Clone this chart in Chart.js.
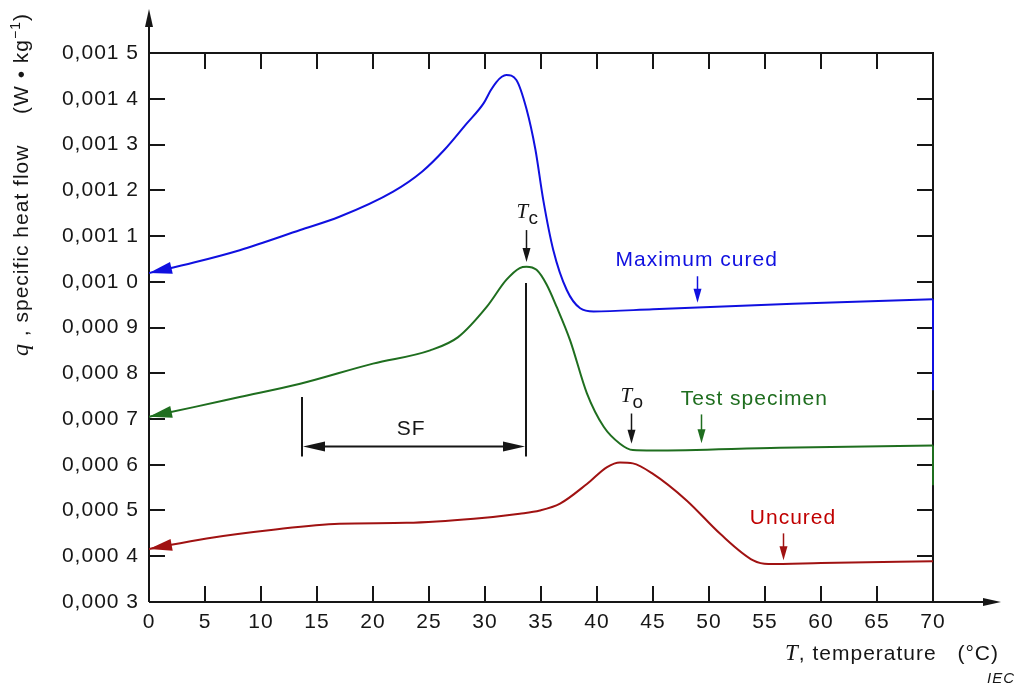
<!DOCTYPE html>
<html>
<head>
<meta charset="utf-8">
<title>Specific heat flow</title>
<script src="https://cdn.jsdelivr.net/npm/chart.js@4.4.0/dist/chart.umd.min.js"></script>
<style>
  html, body { margin: 0; padding: 0; background: #fff; }
  canvas { display: block; }
</style>
</head>
<body>
<canvas id="chart" width="1018" height="684"></canvas>
<script>
// curves: temperature (°C) -> specific heat flow (W/kg)
const tempCured = [0, 4, 8.1, 13.5, 17, 21.8, 24.4, 26.4, 28.3, 29.9, 30.5, 31, 31.5, 31.9, 32.8, 33.7, 34.5, 35.2, 36.1, 37.3, 38.5, 39.7, 45, 57.5, 70];
const heatCured = [0.001019, 0.001042, 0.001069, 0.001113, 0.001142, 0.001197, 0.001241, 0.001289, 0.001344, 0.001391, 0.001418, 0.001436, 0.001448, 0.001452, 0.001441, 0.001378, 0.001289, 0.001179, 0.001069, 0.000982, 0.000942, 0.000935, 0.000940, 0.000952, 0.000962];

const tempSpecimen = [0, 4, 8.1, 13.5, 20, 25.1, 27.6, 30.15, 31.9, 33.1, 33.7, 34.6, 35.5, 36.4, 37.6, 39.1, 40.6, 42.05, 43.2, 45, 56.3, 70];
const heatSpecimen = [0.000705, 0.000726, 0.000748, 0.000777, 0.000821, 0.000850, 0.000879, 0.000945, 0.001004, 0.001030, 0.001033, 0.001026, 0.000994, 0.000945, 0.000872, 0.000756, 0.000683, 0.000646, 0.000632, 0.000631, 0.000637, 0.000642];

const tempUncured = [0, 5.15, 11.1, 17, 23, 29, 33.1, 34.9, 36.7, 39.1, 40.9, 42.05, 43.2, 45, 48, 51, 53.95, 55.3, 60, 70];
const heatUncured = [0.000416, 0.000439, 0.000458, 0.000471, 0.000473, 0.000482, 0.000493, 0.000500, 0.000515, 0.000558, 0.000595, 0.000605, 0.000603, 0.000580, 0.000522, 0.000449, 0.000391, 0.000383, 0.000385, 0.000389];

// the traces drop straight down at the end of the run
const endTemp = 70;
const curedDrop = [0.000962, 0.000763];
const specimenDrop = [0.000642, 0.000555];

const xTickValues = [0, 5, 10, 15, 20, 25, 30, 35, 40, 45, 50, 55, 60, 65, 70];
const yTickValues = [0.0003, 0.0004, 0.0005, 0.0006, 0.0007, 0.0008, 0.0009, 0.0010, 0.0011, 0.0012, 0.0013, 0.0014, 0.0015];
const yTickLabels = ["0,000 3", "0,000 4", "0,000 5", "0,000 6", "0,000 7", "0,000 8", "0,000 9", "0,001 0", "0,001 1", "0,001 2", "0,001 3", "0,001 4", "0,001 5"];

// SF span and the characteristic temperatures
const sfStart = 13.7;
const tcTemp = 33.7;
const toTemp = 43.0;

const BLUE = "#1010e0";
const GREEN = "#1f6e1f";
const RED = "#a01212";
const INK = "#161616";
const SANS = "'Liberation Sans', Arial, sans-serif";
const SERIF = "'Liberation Serif', 'Times New Roman', serif";

const pts = (xs, ys) => xs.map((t, i) => ({ x: t, y: ys[i] }));

function arrowHead(ctx, tipX, tipY, dx, dy, len, half) {
  const d = Math.hypot(dx, dy);
  const ux = dx / d, uy = dy / d;
  const bx = tipX - ux * len, by = tipY - uy * len;
  ctx.beginPath();
  ctx.moveTo(tipX, tipY);
  ctx.lineTo(bx - uy * half, by + ux * half);
  ctx.lineTo(bx + uy * half, by - ux * half);
  ctx.closePath();
  ctx.fill();
}

// draw a few text pieces one after the other, returns the end x
function runs(ctx, x, y, parts) {
  parts.forEach(p => {
    ctx.font = p.font;
    ctx.fillText(p.text, x, y + (p.dy || 0));
    x += ctx.measureText(p.text).width;
  });
  return x;
}

// axes with arrows, frame and inward ticks
const frame = {
  id: "frame",
  beforeLayout(chart) { chart.ctx.letterSpacing = "1px"; },
  beforeDraw(chart) { chart.ctx.letterSpacing = "1px"; },
  beforeDatasetsDraw(chart) {
    const { ctx, chartArea: a, scales: { x, y } } = chart;
    ctx.save();
    ctx.strokeStyle = INK;
    ctx.fillStyle = INK;
    ctx.lineWidth = 2;
    ctx.beginPath();
    ctx.moveTo(a.left, a.bottom); ctx.lineTo(a.left, 24);
    ctx.moveTo(a.left, a.bottom); ctx.lineTo(986, a.bottom);
    ctx.moveTo(a.left, a.top); ctx.lineTo(a.right, a.top); ctx.lineTo(a.right, a.bottom);
    xTickValues.forEach(v => {
      const px = Math.round(x.getPixelForValue(v));
      ctx.moveTo(px, a.top); ctx.lineTo(px, a.top + 16);
      ctx.moveTo(px, a.bottom); ctx.lineTo(px, a.bottom - 16);
    });
    yTickValues.forEach(v => {
      const py = Math.round(y.getPixelForValue(v));
      ctx.moveTo(a.left, py); ctx.lineTo(a.left + 16, py);
      ctx.moveTo(a.right, py); ctx.lineTo(a.right - 16, py);
    });
    ctx.stroke();
    arrowHead(ctx, a.left, 9, 0, -1, 18, 4);
    arrowHead(ctx, 1001, a.bottom, 1, 0, 18, 4);
    ctx.restore();
  },
  afterDraw(chart) {
    const { ctx, scales: { x, y } } = chart;
    const X = v => x.getPixelForValue(v);
    const Y = v => y.getPixelForValue(v);
    ctx.save();
    ctx.letterSpacing = "1px";

    // arrowheads at the start of each trace
    [[tempCured, heatCured, BLUE], [tempSpecimen, heatSpecimen, GREEN], [tempUncured, heatUncured, RED]].forEach(([xs, ys, c]) => {
      ctx.fillStyle = c;
      const x0 = X(xs[0]), y0 = Y(ys[0]);
      arrowHead(ctx, x0, y0, x0 - X(xs[1]), y0 - Y(ys[1]), 23, 6);
    });

    // small pointer arrows
    const pointer = (t, from, to, c) => {
      const px = Math.round(X(t)) + 0.5;
      ctx.strokeStyle = c; ctx.fillStyle = c; ctx.lineWidth = 1.5;
      ctx.beginPath(); ctx.moveTo(px, Y(from)); ctx.lineTo(px, Y(to) - 8); ctx.stroke();
      arrowHead(ctx, px, Y(to), 0, 1, 14, 4);
    };
    pointer(tcTemp, 0.001113, 0.001043, INK);
    pointer(toTemp, 0.000712, 0.000646, INK);
    pointer(48.93, 0.001012, 0.000954, BLUE);
    pointer(49.3, 0.000710, 0.000647, GREEN);
    pointer(56.6, 0.000450, 0.000391, RED);

    // SF span
    ctx.strokeStyle = INK; ctx.fillStyle = INK; ctx.lineWidth = 2;
    const xl = Math.round(X(sfStart)), xr = Math.round(X(tcTemp));
    const yBase = Y(0.000618), yArrow = Y(0.00064);
    ctx.beginPath();
    ctx.moveTo(xl, Y(0.000748)); ctx.lineTo(xl, yBase);
    ctx.moveTo(xr, Y(0.000997)); ctx.lineTo(xr, yBase);
    ctx.moveTo(xl + 10, yArrow); ctx.lineTo(xr - 10, yArrow);
    ctx.stroke();
    arrowHead(ctx, xl + 1, yArrow, -1, 0, 22, 5);
    arrowHead(ctx, xr - 1, yArrow, 1, 0, 22, 5);

    ctx.textBaseline = "alphabetic";
    ctx.textAlign = "center";
    ctx.font = "21px " + SANS;
    ctx.fillText("SF", X(23.4), Y(0.000682) + 8);

    // Tc and To labels
    ctx.textAlign = "left";
    const tLabel = (t, topVal, sub) => {
      const px = X(t), top = Y(topVal);
      ctx.fillStyle = INK;
      ctx.font = "italic 21px " + SERIF;
      ctx.fillText("T", px - 10, top - 12);
      ctx.font = "19px " + SANS;
      ctx.fillText(sub, px + 2, top - 6);
    };
    tLabel(tcTemp, 0.001113, "c");
    tLabel(toTemp, 0.000712, "o");

    // curve names
    ctx.textAlign = "center";
    ctx.font = "21px " + SANS;
    ctx.fillStyle = BLUE; ctx.fillText("Maximum cured", X(48.9), Y(0.001034));
    ctx.fillStyle = GREEN; ctx.fillText("Test specimen", X(54.05), Y(0.00073));
    ctx.fillStyle = "#c00000"; ctx.fillText("Uncured", X(57.5), Y(0.00047));

    // axis titles
    ctx.fillStyle = INK;
    ctx.textAlign = "left";
    runs(ctx, 785, 660, [
      { text: "T", font: "italic 23px " + SERIF },
      { text: ", temperature", font: "21px " + SANS }
    ]);
    ctx.textAlign = "right";
    ctx.font = "21px " + SANS;
    ctx.fillText("(\u00b0C)", 999, 660);
    ctx.font = "italic 15px " + SANS;
    ctx.fillText("IEC", 1015, 683);

    ctx.textAlign = "left";
    ctx.translate(28, 356);
    ctx.rotate(-Math.PI / 2);
    runs(ctx, 0, 0, [
      { text: "q", font: "italic 24px " + SERIF },
      { text: " , specific heat flow", font: "21px " + SANS }
    ]);
    runs(ctx, 242, 0, [
      { text: "(W \u2022 kg", font: "21px " + SANS },
      { text: "\u22121", font: "14px " + SANS, dy: -8 },
      { text: ")", font: "21px " + SANS }
    ]);
    ctx.restore();
  }
};

const curve = (data, color) => ({
  data, borderColor: color, borderWidth: 2, pointRadius: 0,
  cubicInterpolationMode: "monotone", fill: false
});
const drop = (top, bottom, color) => ({
  data: [{ x: endTemp, y: top }, { x: endTemp, y: bottom }],
  borderColor: color, borderWidth: 2, pointRadius: 0, tension: 0, fill: false, clip: false
});

new Chart(document.getElementById("chart"), {
  type: "line",
  data: {
    datasets: [
      curve(pts(tempCured, heatCured), BLUE),
      curve(pts(tempSpecimen, heatSpecimen), GREEN),
      curve(pts(tempUncured, heatUncured), RED),
      drop(curedDrop[0], curedDrop[1], BLUE),
      drop(specimenDrop[0], specimenDrop[1], GREEN)
    ]
  },
  options: {
    responsive: false,
    animation: false,
    devicePixelRatio: 1,
    layout: { padding: { top: 53, right: 85, left: 0, bottom: 0 } },
    plugins: { legend: { display: false }, tooltip: { enabled: false } },
    scales: {
      x: {
        type: "linear", min: 0, max: 70,
        grid: { display: false, drawTicks: false },
        border: { display: false },
        afterBuildTicks: s => { s.ticks = xTickValues.map(v => ({ value: v })); },
        afterFit: s => { s.height = 82; },
        ticks: { padding: 8, color: INK, font: { family: SANS, size: 21 }, maxRotation: 0, autoSkip: false, callback: v => String(v) }
      },
      y: {
        type: "linear", min: 0.0003, max: 0.0015,
        grid: { display: false, drawTicks: false },
        border: { display: false },
        afterBuildTicks: s => { s.ticks = yTickValues.map(v => ({ value: v })); },
        afterFit: s => { s.width = 149; },
        ticks: { padding: 10, color: INK, font: { family: SANS, size: 21 }, autoSkip: false, callback: (v, i) => yTickLabels[i] }
      }
    }
  },
  plugins: [frame]
});
</script>
</body>
</html>
